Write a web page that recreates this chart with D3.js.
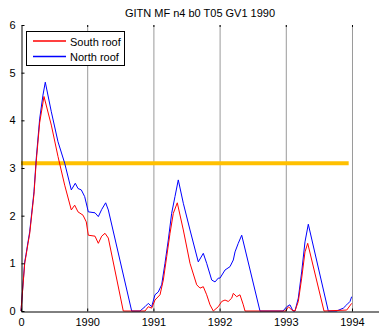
<!DOCTYPE html>
<html>
<head>
<meta charset="utf-8">
<script src="https://cdn.jsdelivr.net/npm/d3@7"></script>
<style>
  body { margin: 0; background: #fff; }
  svg text { font-family: "Liberation Sans", Arial, sans-serif; }
</style>
</head>
<body>
<svg id="chart" width="379" height="327"></svg>
<script>
// Years since the start of the run, and the matching label under each tick
const tickValues = [0, 1, 2, 3, 4, 5];
const tickLabels = ["0", "1990", "1991", "1992", "1993", "1994"];
const yTicks = [0, 1, 2, 3, 4, 5, 6];
const threshold = 3.1;
const thresholdEnd = 4.95;

// North roof series: [time in years, value]
const northRoof = [
  [0, 0], [0.056, 1.03], [0.075, 1.18], [0.106, 1.45], [0.131, 1.66], [0.196, 2.50], [0.231, 3.21],
  [0.282, 4.03], [0.332, 4.53], [0.367, 4.80], [0.458, 4.18], [0.559, 3.55],
  [0.660, 3.10], [0.760, 2.54], [0.820, 2.68], [0.861, 2.57], [0.911, 2.54],
  [0.962, 2.40], [1.017, 2.08], [1.118, 2.06], [1.168, 1.98], [1.219, 2.13],
  [1.279, 2.27], [1.319, 2.12], [1.672, 0], [1.798, 0], [1.873, 0.09], [1.923, 0.16],
  [1.974, 0.09], [2.024, 0.34], [2.074, 0.40], [2.125, 0.55], [2.175, 1.00],
  [2.225, 1.49], [2.276, 2.05], [2.326, 2.40], [2.376, 2.75], [2.452, 2.26],
  [2.553, 1.70], [2.678, 1.03], [2.754, 1.21], [2.805, 1.00], [2.881, 0.65],
  [2.931, 0.61], [2.980, 0.69], [3.006, 0.69], [3.082, 0.86], [3.157, 0.93],
  [3.207, 1.07], [3.233, 1.24], [3.282, 1.42], [3.334, 1.59], [3.610, 0],
  [3.958, 0], [4.014, 0.09], [4.063, 0.13], [4.109, 0], [4.139, 0], [4.189, 0.27],
  [4.240, 0.82], [4.290, 1.45], [4.340, 1.82], [4.642, 0], [4.769, 0],
  [4.869, 0.06], [4.920, 0.13], [4.970, 0.20], [4.995, 0.30]
];

// South roof series: [time in years, value]
const southRoof = [
  [0, 0], [0.056, 1.00], [0.075, 1.15], [0.106, 1.42], [0.131, 1.62], [0.196, 2.45], [0.231, 3.15],
  [0.282, 3.95], [0.347, 4.50], [0.458, 3.90], [0.559, 3.24], [0.660, 2.64],
  [0.760, 2.12], [0.811, 2.22], [0.861, 2.08], [0.937, 2.01], [0.986, 1.87],
  [1.017, 1.59], [1.118, 1.57], [1.168, 1.42], [1.219, 1.57], [1.269, 1.63],
  [1.319, 1.53], [1.545, 0], [1.873, 0], [1.923, 0.09], [1.974, 0.06], [2.024, 0.23],
  [2.100, 0.34], [2.150, 0.65], [2.201, 1.14], [2.251, 1.63], [2.301, 2.05],
  [2.361, 2.27], [2.452, 1.70], [2.553, 1.00], [2.654, 0.55], [2.704, 0.48],
  [2.754, 0.51], [2.805, 0.34], [2.855, 0.13], [2.905, 0], [2.980, 0.09],
  [3.032, 0.20], [3.082, 0.23], [3.131, 0.20], [3.183, 0.27], [3.207, 0.37],
  [3.258, 0.30], [3.308, 0.34], [3.358, 0.13], [3.384, 0], [4.00, 0], [4.04, 0.09],
  [4.09, 0.02], [4.139, 0], [4.189, 0.20], [4.240, 0.69], [4.290, 1.24],
  [4.331, 1.42], [4.577, 0], [4.920, 0.02], [4.995, 0.16]
];

const svg = d3.select("#chart");
const plotLeft = 21, plotRight = 379, plotTop = 25, plotBottom = 311;

const x = d3.scaleLinear().domain([0, 5.408]).range([plotLeft, plotRight]);
const y = d3.scaleLinear().domain([0, 6]).range([plotBottom, plotTop]);

// Vertical year lines
svg.append("g")
  .selectAll("line")
  .data(tickValues.slice(1))
  .join("line")
  .attr("x1", d => x(d) + 0.5).attr("x2", d => x(d) + 0.5)
  .attr("y1", plotTop).attr("y2", plotBottom)
  .attr("stroke", "#9a9a9a").attr("stroke-width", 1);

// Small ticks along the top edge
svg.append("g")
  .selectAll("line")
  .data(tickValues.slice(1))
  .join("line")
  .attr("x1", d => x(d) + 0.5).attr("x2", d => x(d) + 0.5)
  .attr("y1", plotTop).attr("y2", plotTop + 2)
  .attr("stroke", "#000").attr("stroke-width", 1);

// Threshold line
svg.append("line")
  .attr("x1", x(0)).attr("x2", x(thresholdEnd))
  .attr("y1", y(threshold)).attr("y2", y(threshold))
  .attr("stroke", "#ffc000").attr("stroke-width", 4);

const line = d3.line().x(d => x(d[0])).y(d => y(d[1]));

svg.append("path").datum(northRoof)
  .attr("d", line).attr("fill", "none")
  .attr("stroke", "#0000ff").attr("stroke-width", 1);

svg.append("path").datum(southRoof)
  .attr("d", line).attr("fill", "none")
  .attr("stroke", "#ff0000").attr("stroke-width", 1);

// Bottom axis
const xAxis = d3.axisBottom(x)
  .tickValues(tickValues)
  .tickFormat((d, i) => tickLabels[i])
  .tickSizeInner(-3).tickSizeOuter(0).tickPadding(7);
const gx = svg.append("g").attr("transform", `translate(0,${plotBottom + 0.5})`).call(xAxis);
gx.select(".domain").attr("stroke", "#000");
gx.selectAll("text").attr("font-size", 11).attr("fill", "#000");

// Left axis
const yAxis = d3.axisLeft(y)
  .tickValues(yTicks)
  .tickFormat(d3.format("d"))
  .tickSizeInner(-3).tickSizeOuter(0).tickPadding(6);
const gy = svg.append("g").attr("transform", `translate(${plotLeft + 0.5},0)`).call(yAxis);
gy.select(".domain").attr("stroke", "#000");
gy.selectAll("text").attr("font-size", 11).attr("fill", "#000");

// Title
svg.append("text")
  .attr("x", 200).attr("y", 17)
  .attr("text-anchor", "middle")
  .attr("font-size", 11)
  .text("GITN MF n4 b0 T05 GV1 1990");

// Legend: box, then one sample path and label per series
const lg = svg.append("g");
lg.append("rect")
  .attr("x", 26.5).attr("y", 31.5).attr("width", 98).attr("height", 34)
  .attr("fill", "#fff").attr("stroke", "#000");
const entries = [
  { label: "South roof", stroke: "#ff0000" },
  { label: "North roof", stroke: "#0000ff" }
];
entries.forEach((e, i) => {
  const yy = 41 + i * 15.5;
  lg.append("path")
    .attr("d", `M33,${yy}H66`)
    .attr("fill", "none")
    .attr("stroke", e.stroke)
    .attr("stroke-width", 1.3);
  lg.append("text").attr("x", 70).attr("y", yy + 4.5)
    .attr("font-size", 11).text(e.label);
});
</script>
</body>
</html>
